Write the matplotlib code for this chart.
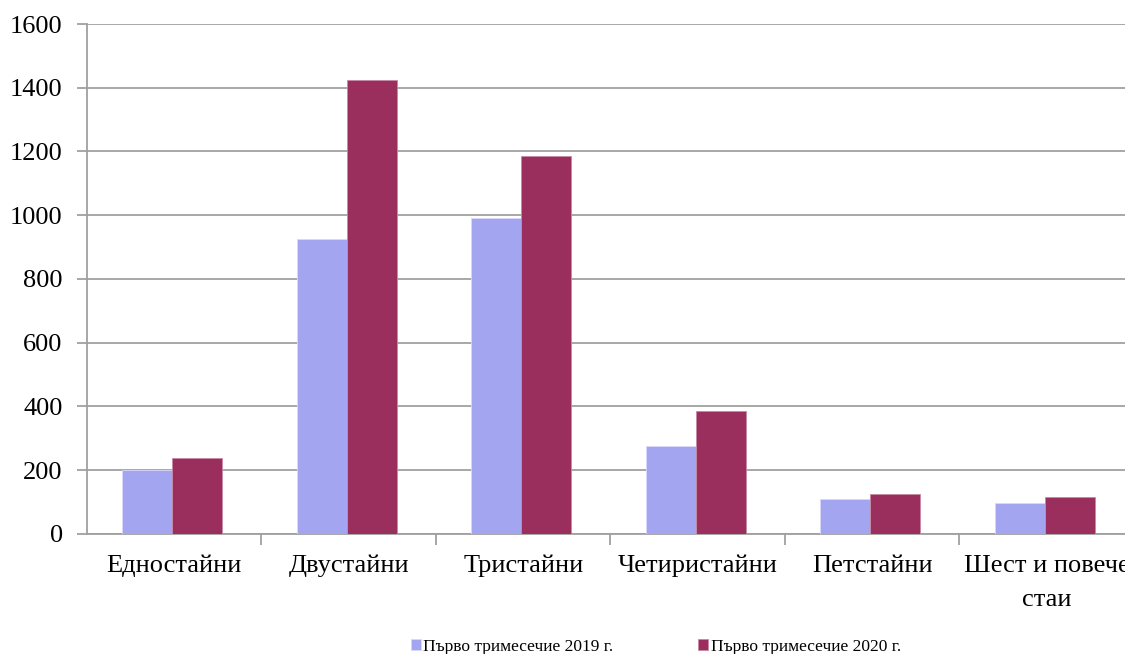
import matplotlib.pyplot as plt
import numpy as np

# data
categories = ['Едностайни', 'Двустайни', 'Тристайни', 'Четиристайни',
              'Петстайни', 'Шест и повече\nстаи']
q1_2019 = [202, 924, 992, 277, 109, 96]
q1_2020 = [237, 1423, 1186, 386, 124, 116]
series_names = ['Първо тримесечие 2019 г.', 'Първо тримесечие 2020 г.']
yticks = [0, 200, 400, 600, 800, 1000, 1200, 1400, 1600]

plt.rcParams['font.family'] = ['Liberation Serif', 'DejaVu Serif']

fig = plt.figure(figsize=(11.25, 6.54), dpi=100)
ax = fig.add_axes([0.0773, 0.1835, 0.9307, 0.7798])

x = np.arange(len(categories))
w = 0.2865
off = -0.01
ax.bar(x - w/2 + off, q1_2019, w, color='#a3a5f1', edgecolor='#d8d9fa', linewidth=0.6,
       label=series_names[0], zorder=3)
ax.bar(x + w/2 + off, q1_2020, w, color='#9a2f5e', edgecolor='#c78aa5', linewidth=0.6,
       label=series_names[1], zorder=3)

ax.set_xlim(-0.5, len(categories) - 0.5)
ax.set_ylim(0, 1600)
ax.set_yticks(yticks)
ax.set_yticklabels([str(v) for v in yticks], fontsize=19)
ax.yaxis.grid(True, color='#a0a0a0', linewidth=1.3, zorder=0)

ax.set_xticks(x)
ax.set_xticklabels(categories, fontsize=19, linespacing=1.7)
ax.set_xticks(np.arange(0.5, len(categories) - 0.5, 1), minor=True)
ax.tick_params(axis='x', which='major', length=0, pad=15)
ax.tick_params(axis='x', which='minor', length=8, width=1.3, color='#a0a0a0')
ax.tick_params(axis='y', length=7.5, width=1.3, color='#a0a0a0', pad=10)

for s in ['top', 'right']:
    ax.spines[s].set_visible(False)
for s in ['left', 'bottom']:
    ax.spines[s].set_color('#a0a0a0')
    ax.spines[s].set_linewidth(1.3)

fig.legend(loc='lower center', bbox_to_anchor=(0.583, -0.025), ncol=2, frameon=False,
           fontsize=12.5, handlelength=0.55, handleheight=0.55, handletextpad=0.15,
           columnspacing=4.9)

fig.savefig('out.png', dpi=100)
